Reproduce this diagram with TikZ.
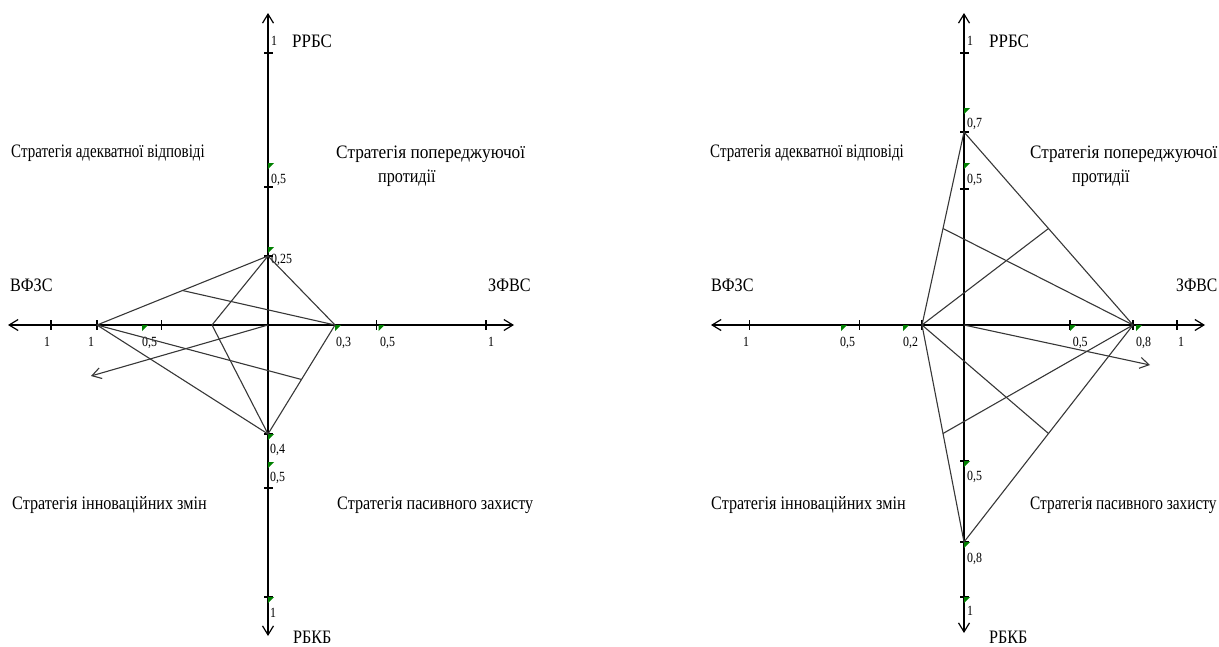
\documentclass[tikz,border=0pt]{standalone}
\usepackage{graphicx}
\usepackage{fontspec}
\setmainfont{Liberation Serif}[FakeStretch=0.85]
\usetikzlibrary{arrows.meta,calc}
\definecolor{mk}{RGB}{0,128,0}
\definecolor{dl}{RGB}{55,55,55}
\newcommand\sx[2]{\scalebox{#1}[1]{#2}}
\begin{document}
\begin{tikzpicture}[x=1pt,y=-1pt,
  axis/.style={line width=1.2pt,{Straight Barb[length=9pt,width=11pt]}-{Straight Barb[length=9pt,width=11pt]}},
  dline/.style={line width=1.1pt,dl},
  darrow/.style={dline,-{Straight Barb[length=9pt,width=11pt]}},
  tk/.style={line width=1.1pt},
  big/.style={font=\fontsize{19}{21}\selectfont,inner sep=0pt,anchor=base west},
  sm/.style={font=\fontsize{14}{15}\selectfont,inner sep=0pt,anchor=base west},
  gm/.style={fill=mk}]
\useasboundingbox (0,0) rectangle (1219,646);
% ================= LEFT DIAGRAM =================
\coordinate (LVt) at (268,13);
\coordinate (LVb) at (268,636);
\coordinate (LHl) at (8,325);
\coordinate (LHr) at (514,325);
\draw[axis] (LVt) -- (LVb);
\draw[axis] (LHl) -- (LHr);
\foreach \y in {53,187,256,434,488,597} \draw[tk] (264,\y) -- (273,\y);
\foreach \x in {51,97,161.5,376.6,486} \draw[tk] (\x,320) -- (\x,330);
\foreach \y in {163,247,434,462,597} \fill[gm] (268,\y) -- ++(6,0) -- ++(-6,6) -- cycle;
\foreach \x in {142,335,378.6} \fill[gm] (\x,325) -- ++(6,0) -- ++(-6,6) -- cycle;
% scale labels
\node[sm] (l1) at (271,45) {1};
\node[sm] (l2) at (271,183) {0,5};
\node[sm] (l3) at (271,263) {0,25};
\node[sm] (l4) at (270,453) {0,4};
\node[sm] (l5) at (270,481) {0,5};
\node[sm] (l6) at (270,617) {1};
\node[sm] (l7) at (43.8,346.5) {1};
\node[sm] (l8) at (88,346.5) {1};
\node[sm] (l9) at (142,346.5) {0,5};
\node[sm] (l10) at (336,346.5) {0,3};
\node[sm] (l11) at (380,346.5) {0,5};
\node[sm] (l12) at (488,346.5) {1};
% data
\coordinate (LT) at (268,256);
\coordinate (LR) at (335,325);
\coordinate (LB) at (268,434);
\coordinate (LL) at (97,325);
\coordinate (LO) at (268,325);
\coordinate (LX) at (212,325);
\coordinate (LA) at (91,376);
\draw[dline] (LL) -- (LT) -- (LR) -- (LB) -- cycle;
\draw[dline] ($(LL)!.5!(LT)$) -- (LR);
\draw[dline] (LL) -- ($(LR)!.5!(LB)$);
\draw[dline] (LT) -- (LX) -- (LB);
\draw[darrow] (LO) -- (LA);
% texts
\node[big] (a1) at (292,47) {\sx{1.05}{РРБС}};
\node[big] (a2) at (11,157) {\sx{0.93}{Стратегія адекватної відповіді}};
\node[big] (a3) at (336,158) {\sx{1.07}{Стратегія попереджуючої}};
\node[big] (a4) at (378,182) {протидії};
\node[big] (a5) at (10,291) {ВФЗС};
\node[big] (a6) at (488,291) {ЗФВС};
\node[big] (a7) at (12,509) {Стратегія інноваційних змін};
\node[big] (a8) at (337,509) {Стратегія пасивного захисту};
\node[big] (a9) at (293,643) {РБКБ};
% ================= RIGHT DIAGRAM =================
\coordinate (RVt) at (964,13);
\coordinate (RVb) at (964,633);
\coordinate (RHl) at (711,325);
\coordinate (RHr) at (1205,325);
\draw[axis] (RVt) -- (RVb);
\draw[axis] (RHl) -- (RHr);
\foreach \y in {53,132,189,461,542,597} \draw[tk] (960,\y) -- (969,\y);
\foreach \x in {749.6,859.5,922,1070,1133,1177} \draw[tk] (\x,320) -- (\x,330);
\foreach \y in {108,163,461,542,597} \fill[gm] (964,\y) -- ++(6,0) -- ++(-6,6) -- cycle;
\foreach \x in {841,903,1070,1136} \fill[gm] (\x,325) -- ++(6,0) -- ++(-6,6) -- cycle;
\node[sm] (r1) at (967,45) {1};
\node[sm] (r2) at (967,127) {0,7};
\node[sm] (r3) at (967,183) {0,5};
\node[sm] (r4) at (967,480) {0,5};
\node[sm] (r5) at (967,562) {0,8};
\node[sm] (r6) at (967,615) {1};
\node[sm] (r7) at (743,346) {1};
\node[sm] (r8) at (840,346) {0,5};
\node[sm] (r9) at (903,346) {0,2};
\node[sm] (r10) at (1072.6,346) {0,5};
\node[sm] (r11) at (1136,346) {0,8};
\node[sm] (r12) at (1178,346) {1};
\coordinate (RT) at (964,132);
\coordinate (RR) at (1133,325);
\coordinate (RB) at (964,542);
\coordinate (RL) at (922,325);
\coordinate (RO) at (964,325);
\coordinate (RA) at (1150,365);
\draw[dline] (RL) -- (RT) -- (RR) -- (RB) -- cycle;
\draw[dline] ($(RL)!.5!(RT)$) -- (RR);
\draw[dline] (RL) -- ($(RT)!.5!(RR)$);
\draw[dline] (RL) -- ($(RR)!.5!(RB)$);
\draw[dline] (RR) -- ($(RL)!.5!(RB)$);
\draw[darrow] (RO) -- (RA);
\node[big] (b1) at (989,47) {\sx{1.05}{РРБС}};
\node[big] (b2) at (710,157) {\sx{0.93}{Стратегія адекватної відповіді}};
\node[big] (b3) at (1030,158) {\sx{1.06}{Стратегія попереджуючої}};
\node[big] (b4) at (1072,182) {протидії};
\node[big] (b5) at (711,291) {ВФЗС};
\node[big] (b6) at (1176,291) {\sx{0.97}{ЗФВС}};
\node[big] (b7) at (711,509) {Стратегія інноваційних змін};
\node[big] (b8) at (1030,509) {\sx{0.95}{Стратегія пасивного захисту}};
\node[big] (b9) at (989,643) {РБКБ};
\end{tikzpicture}
\end{document}
